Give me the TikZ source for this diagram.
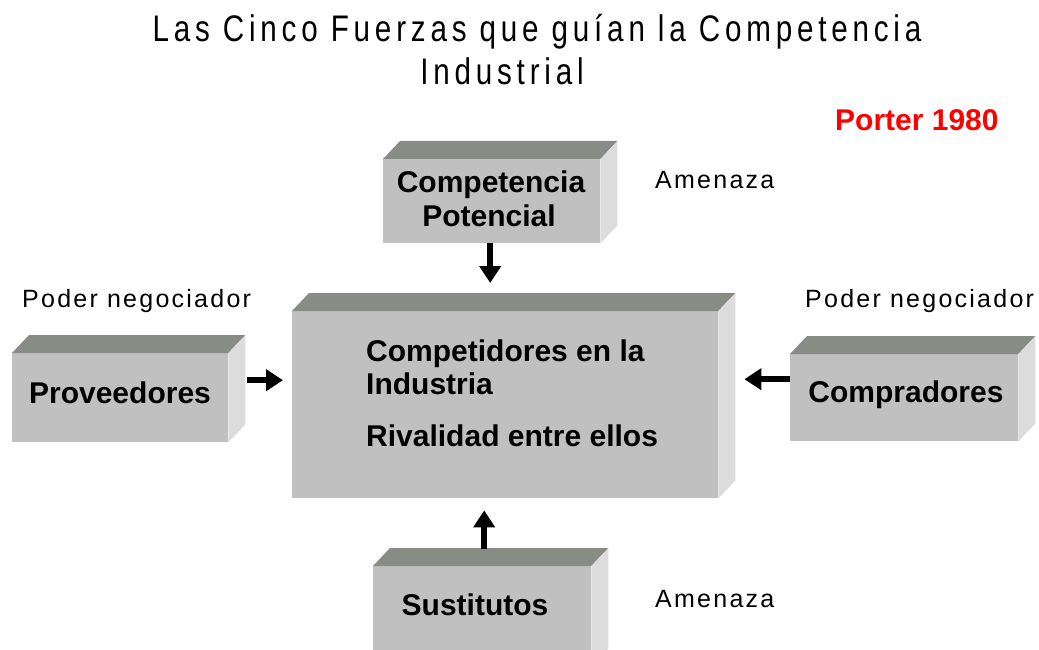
\documentclass[tikz,border=0pt]{standalone}
\usepackage{fontspec}
\setmainfont{Liberation Sans}
\newfontfamily\titlefont[FakeStretch=0.8,LetterSpace=13]{Liberation Sans}
\newfontfamily\spacedfont[LetterSpace=9]{Liberation Sans}
\usetikzlibrary{arrows.meta,calc}
\definecolor{frontgray}{HTML}{C0C0C0}
\definecolor{topgray}{HTML}{878D85}
\definecolor{sidegray}{HTML}{DCDCDC}
\definecolor{portered}{HTML}{FF0000}
\newcommand\cubefaces[1]{%
  \fill[topgray] (#1.north west) -- ++(17,-18) -- ($(#1.north east)+(17,-18)$) -- (#1.north east) -- cycle;
  \fill[sidegray] (#1.north east) -- ++(17,-18) -- ($(#1.south east)+(17,-18)$) -- (#1.south east) -- cycle;
}
\begin{document}
\begin{tikzpicture}[x=1pt,y=-1pt,
  cube/.style={fill=frontgray, draw=none, inner sep=0pt, anchor=north west},
  boxlabel/.style={font=\bfseries\fontsize{30}{34}\selectfont, anchor=base, inner sep=0pt},
  cenlabel/.style={font=\bfseries\fontsize{30}{34}\selectfont, anchor=base west, inner sep=0pt},
  note/.style={font=\spacedfont\fontsize{25}{29}\selectfont, anchor=base west, inner sep=0pt},
  titletext/.style={font=\titlefont\fontsize{37}{42}\selectfont, anchor=base, inner sep=0pt},
  arr/.style={line width=6pt, -{Triangle[width=21pt,length=17pt]}}
]
\clip (0,0) rectangle (1039,650);
\fill[white] (0,0) rectangle (1039,650);

% title
\node[titletext] (t1) at (537,42) {Las Cinco Fuerzas que guían la Competencia};
\node[titletext] (t2) at (502,85) {Industrial};
\node[font=\bfseries\fontsize{30}{34}\selectfont, text=portered, anchor=base west, inner sep=0pt] (por) at (835,131) {Porter 1980};

% boxes
\node[cube, minimum width=217pt, minimum height=84pt] (cp) at (383,159) {};
\cubefaces{cp}
\node[cube, minimum width=216pt, minimum height=89pt] (pv) at (12,353) {};
\cubefaces{pv}
\node[cube, minimum width=426pt, minimum height=187pt] (cen) at (292,311) {};
\cubefaces{cen}
\node[cube, minimum width=228pt, minimum height=87pt] (cb) at (790,354) {};
\cubefaces{cb}
\node[cube, minimum width=218pt, minimum height=100pt] (st) at (373,566) {};
\cubefaces{st}

% box labels
\node[boxlabel] (cpl1) at (491,193) {Competencia};
\node[boxlabel] (cpl2) at (489,226) {Potencial};
\node[boxlabel] (pvl) at (120,403) {Proveedores};
\node[boxlabel] (cbl) at (906,402) {Compradores};
\node[boxlabel] (stl) at (475,615) {Sustitutos};
\node[cenlabel] (cen1) at (366,361) {Competidores en la};
\node[cenlabel] (cen2) at (366,394) {Industria};
\node[cenlabel] (cen3) at (366,446) {Rivalidad entre ellos};

% notes
\node[note] (am1) at (655,189) {Amenaza};
\node[note] (am2) at (655,607) {Amenaza};
\node[note] (pn1) at (22,307) {Poder negociador};
\node[note] (pn2) at (805,307) {Poder negociador};

% connectors
\coordinate (cpa) at ([xshift=-1.5pt]cp.south);
\draw[arr, shorten >=28pt] (cpa) -- (cpa |- cen.north);
\coordinate (pva) at ([yshift=17.5pt]pv.east);
\draw[arr, shorten <=19pt, shorten >=9pt] (pva) -- (pva -| cen.west);
\coordinate (cba) at ([yshift=18.5pt]cb.west);
\draw[arr, shorten >=26pt] (cba) -- (cba -| cen.east);
\coordinate (sta) at ([xshift=2pt]st.north);
\draw[arr, shorten <=17pt, shorten >=12pt] (sta) -- (sta |- cen.south);
\end{tikzpicture}
\end{document}
